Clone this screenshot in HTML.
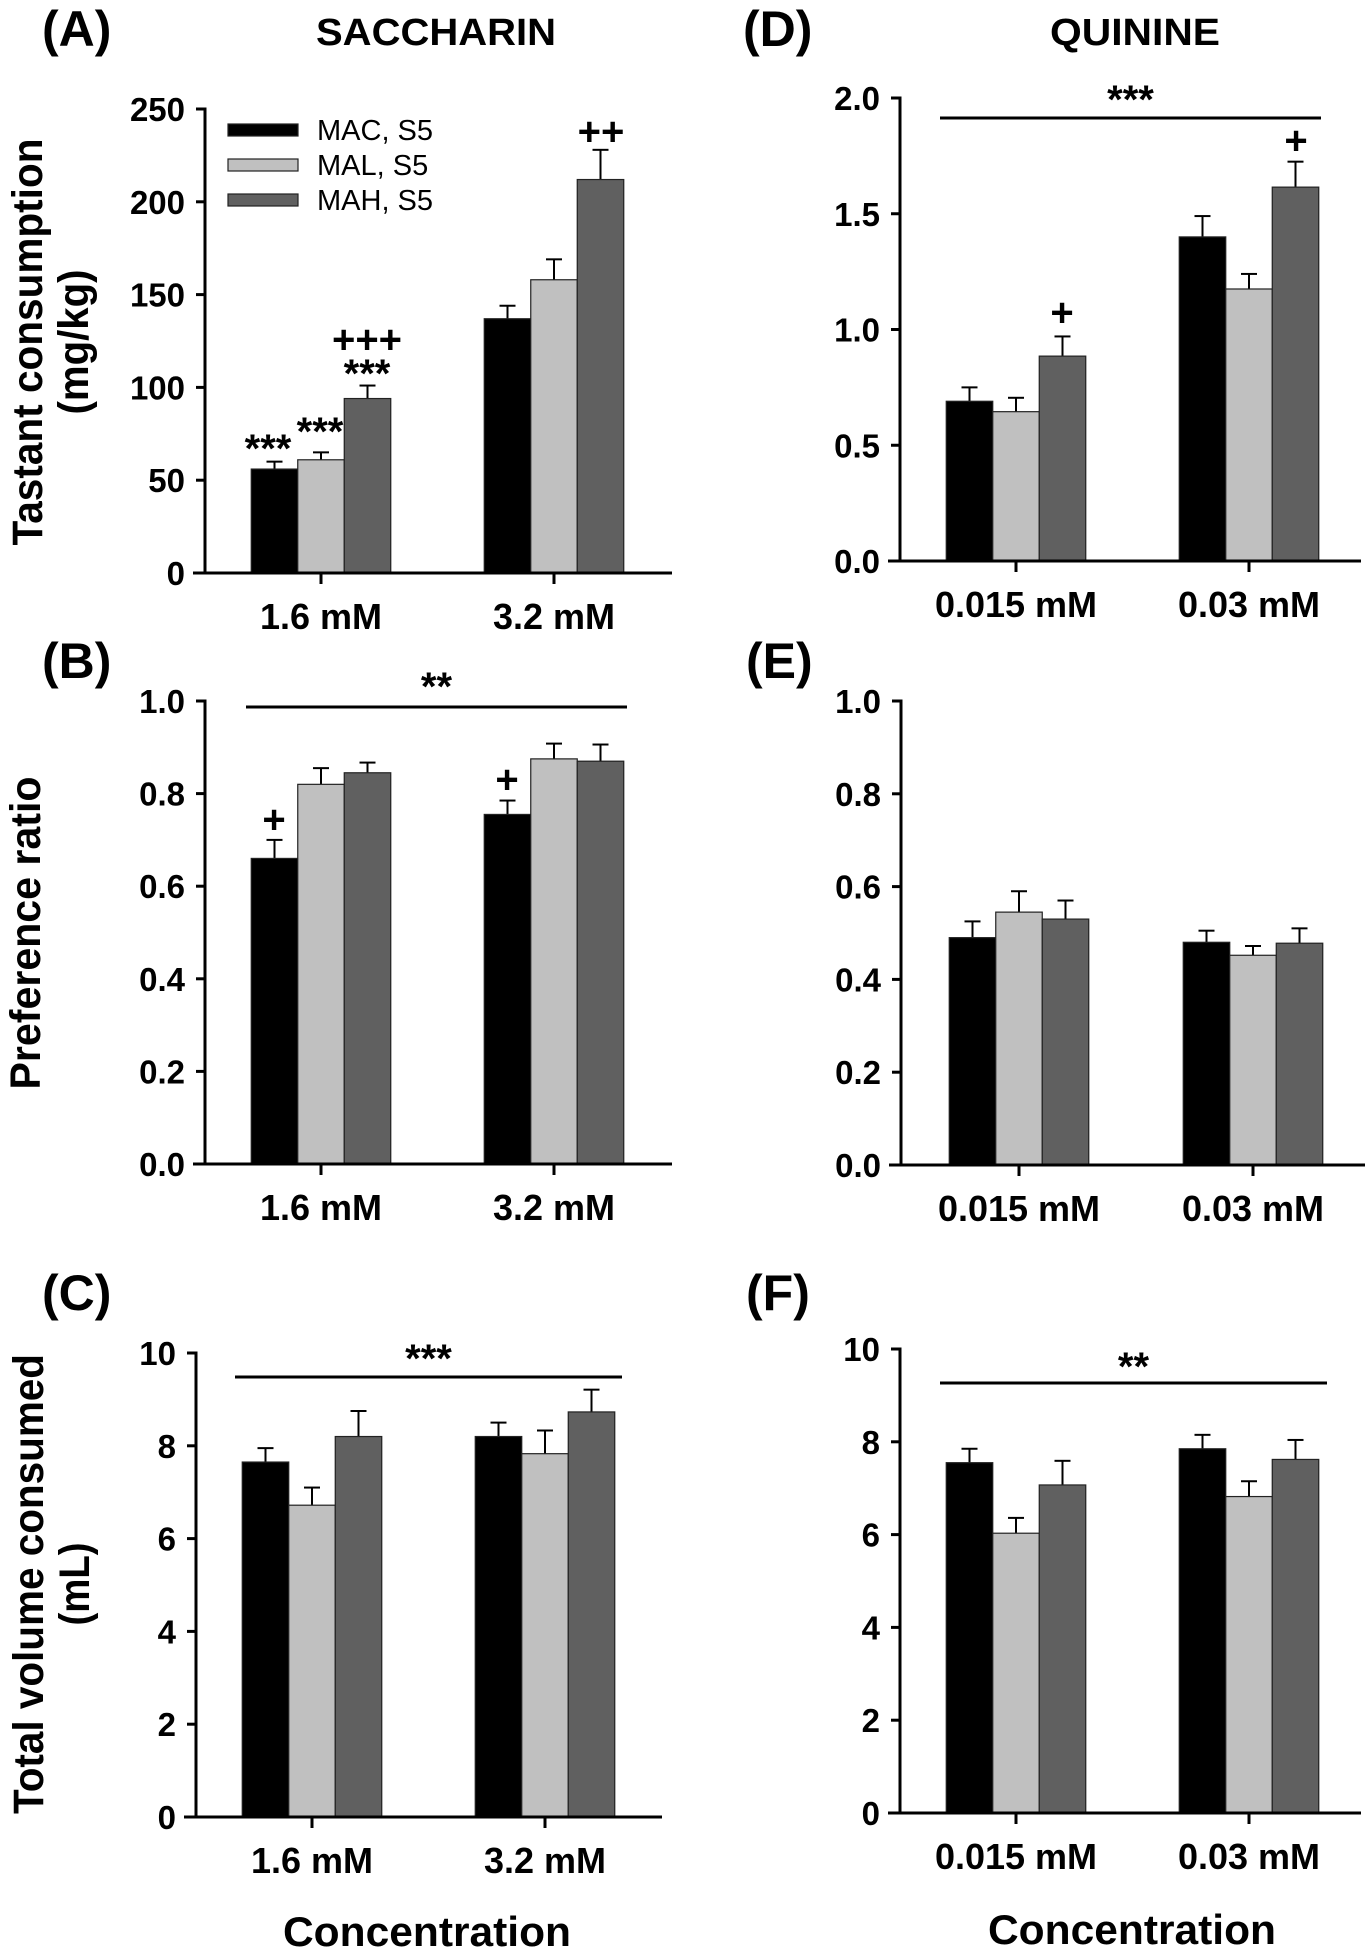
<!DOCTYPE html>
<html><head><meta charset="utf-8"><style>
html,body{margin:0;padding:0;background:#fff}
svg{display:block}
text{font-family:"Liberation Sans",Arial,sans-serif;fill:#000}
</style></head><body>
<svg id="fig" width="1369" height="1950" viewBox="0 0 1369 1950" xmlns="http://www.w3.org/2000/svg"></svg>
<script>
// ---- data ----
const seriesNames = ["MAC, S5", "MAL, S5", "MAH, S5"];
const sacCats = ["1.6 mM", "3.2 mM"];
const quiCats = ["0.015 mM", "0.03 mM"];
const aMeans = [[56, 137], [61, 158], [94, 212]];
const aErrs  = [[4, 7], [4, 11], [7, 16]];
const bMeans = [[0.66, 0.755], [0.82, 0.875], [0.845, 0.87]];
const bErrs  = [[0.04, 0.03], [0.035, 0.033], [0.022, 0.036]];
const cMeans = [[7.65, 8.2], [6.72, 7.83], [8.2, 8.73]];
const cErrs  = [[0.3, 0.3], [0.38, 0.5], [0.55, 0.48]];
const dMeans = [[0.69, 1.4], [0.645, 1.175], [0.885, 1.615]];
const dErrs  = [[0.06, 0.09], [0.06, 0.065], [0.085, 0.11]];
const eMeans = [[0.49, 0.48], [0.545, 0.452], [0.53, 0.478]];
const eErrs  = [[0.035, 0.025], [0.045, 0.02], [0.04, 0.032]];
const fMeans = [[7.55, 7.85], [6.03, 6.82], [7.07, 7.62]];
const fErrs  = [[0.3, 0.3], [0.33, 0.33], [0.52, 0.42]];
const aTicks = ["0", "50", "100", "150", "200", "250"];
const ratioTicks = ["0.0", "0.2", "0.4", "0.6", "0.8", "1.0"];
const volTicks = ["0", "2", "4", "6", "8", "10"];
const dTicks = ["0.0", "0.5", "1.0", "1.5", "2.0"];

const NS = "http://www.w3.org/2000/svg";
const svg = document.getElementById("fig");
const colors = ["#000000", "#c0c0c0", "#606060"];
function mk(tag, attrs, parent) {
  const e = document.createElementNS(NS, tag);
  for (const k in attrs) e.setAttribute(k, attrs[k]);
  (parent || svg).appendChild(e);
  return e;
}
function txt(str, x, y, size, weight, anchor, parent, extra) {
  const t = mk("text", Object.assign({x: x, y: y, "font-size": size, "font-weight": weight, "text-anchor": anchor}, extra || {}), parent);
  t.textContent = str;
  return t;
}

function panel(p) {
  const g = mk("g", {});
  
  
  const ymax = parseFloat(p.ticks[p.ticks.length - 1]);
  const yS = v => p.y0 - (v / ymax) * (p.y0 - p.yTop);
  const bw = 46.5;
  p.cats.forEach((c, ci) => {
    const cx = p.cx[ci];
    for (let s = 0; s < 3; s++) {
      const v = p.means[s][ci], er = p.errs[s][ci];
      const x0 = cx - 1.5 * bw + s * bw;
      const bc = x0 + bw / 2;
      const el = mk("line", {x1: bc, x2: bc, y1: yS(v), y2: yS(v + er), stroke: "#000", "stroke-width": 2}, g);
      
      
      const cap = mk("line", {x1: bc - 8, x2: bc + 8, y1: yS(v + er), y2: yS(v + er), stroke: "#000", "stroke-width": 2}, g);
      
      
      const r = mk("rect", {x: x0, y: yS(v), width: bw, height: p.y0 - yS(v), fill: colors[s], stroke: "#222", "stroke-width": 1.2}, g);
      
      
    }
    const tk = mk("line", {x1: cx, x2: cx, y1: p.y0, y2: p.y0 + 11, stroke: "#000", "stroke-width": 3}, g);
    
    
    const lab = txt(c, cx, p.y0 + 56, 36, "bold", "middle", g);
    
    
  });
  const ya = mk("line", {x1: p.ax, x2: p.ax, y1: p.yTop - 1.5, y2: p.y0 + 1.5, stroke: "#000", "stroke-width": 3}, g);
  
  
  const xa = mk("line", {x1: p.ax - 12, x2: p.xEnd, y1: p.y0, y2: p.y0, stroke: "#000", "stroke-width": 3}, g);
  
  
  p.ticks.forEach(t => {
    const y = yS(parseFloat(t));
    const tl = mk("line", {x1: p.ax - 9, x2: p.ax, y1: y, y2: y, stroke: "#000", "stroke-width": 3}, g);
    
    
    const lt = txt(t, p.ax - 20, y + 12, 33, "bold", "end", g);
    
    
  });
  return {g: g, yS: yS};
}

const A = panel({name: "panel-a", cats: sacCats, means: aMeans, errs: aErrs, ticks: aTicks, ax: 205, y0: 573, yTop: 109, cx: [321, 554], xEnd: 672});
const B = panel({name: "panel-b", cats: sacCats, means: bMeans, errs: bErrs, ticks: ratioTicks, ax: 205, y0: 1164, yTop: 701, cx: [321, 554], xEnd: 672});
const C = panel({name: "panel-c", cats: sacCats, means: cMeans, errs: cErrs, ticks: volTicks, ax: 196, y0: 1817, yTop: 1353, cx: [312, 545], xEnd: 662});
const D = panel({name: "panel-d", cats: quiCats, means: dMeans, errs: dErrs, ticks: dTicks, ax: 900, y0: 561, yTop: 98, cx: [1016, 1249], xEnd: 1361});
const E = panel({name: "panel-e", cats: quiCats, means: eMeans, errs: eErrs, ticks: ratioTicks, ax: 901, y0: 1165, yTop: 701, cx: [1019, 1253], xEnd: 1365});
const F = panel({name: "panel-f", cats: quiCats, means: fMeans, errs: fErrs, ticks: volTicks, ax: 900, y0: 1813, yTop: 1349, cx: [1016, 1249], xEnd: 1361});

[["(A)", 42, 46], ["(B)", 42, 678], ["(C)", 42, 1310], ["(D)", 743, 46], ["(E)", 746, 678], ["(F)", 746, 1310]].forEach(l => {
  const t = txt(l[0], l[1], l[2], 50, "bold", "start");
  
  
});
let t;
t = txt("SACCHARIN", 436, 45, 38, "bold", "middle", null, {textLength: 240, lengthAdjust: "spacingAndGlyphs"});
 
t = txt("QUININE", 1135, 45, 38, "bold", "middle", null, {textLength: 170, lengthAdjust: "spacingAndGlyphs"});
 

function ytitle(str, x, y, len, name) {
  const tt = txt(str, 0, 0, 43, "bold", "middle", null, {transform: "translate(" + x + "," + y + ") rotate(-90)", textLength: len, lengthAdjust: "spacingAndGlyphs"});
  
  
}
ytitle("Tastant consumption", 42, 342, 407, "y-axis-title-a");
ytitle("(mg/kg)", 88, 342, 145, "y-axis-unit-a");
ytitle("Preference ratio", 40, 933, 313, "y-axis-title-b");
ytitle("Total volume consumed", 43, 1584, 460, "y-axis-title-c");
ytitle("(mL)", 89, 1584, 83, "y-axis-unit-c");
t = txt("Concentration", 427, 1946, 42, "bold", "middle", null, {textLength: 288, lengthAdjust: "spacingAndGlyphs"});
 
t = txt("Concentration", 1132, 1944, 42, "bold", "middle", null, {textLength: 288, lengthAdjust: "spacingAndGlyphs"});
 

seriesNames.forEach((s, i) => {
  const y = 130 + i * 35;
  const r = mk("rect", {x: 228, y: y - 6, width: 70, height: 12, fill: colors[i], stroke: "#222", "stroke-width": 1.2});
  
  
  const lt = txt(s, 317, y + 10, 29, "normal", "start");
  
  
});

function sig(x1, x2, y, label, ly) {
  const l = mk("line", {x1: x1, x2: x2, y1: y, y2: y, stroke: "#000", "stroke-width": 3});
  
  
  const s = txt(label, (x1 + x2) / 2, ly, 40, "bold", "middle");
  
  
}
sig(246, 627, 707, "**", 700);
sig(235, 622, 1377, "***", 1372);
sig(940, 1321, 118, "***", 113);
sig(940, 1327, 1383, "**", 1380);

function ann(str, x, y) {
  const a = txt(str, x, y, 40, "bold", "middle");
  
  
}
ann("***", 268, 462);
ann("***", 320, 445);
ann("***", 367, 387);
ann("+++", 367, 353);
ann("++", 601, 145);
ann("+", 274, 833);
ann("+", 507, 793);
ann("+", 1062, 326);
ann("+", 1296, 154);
</script>
</body></html>
